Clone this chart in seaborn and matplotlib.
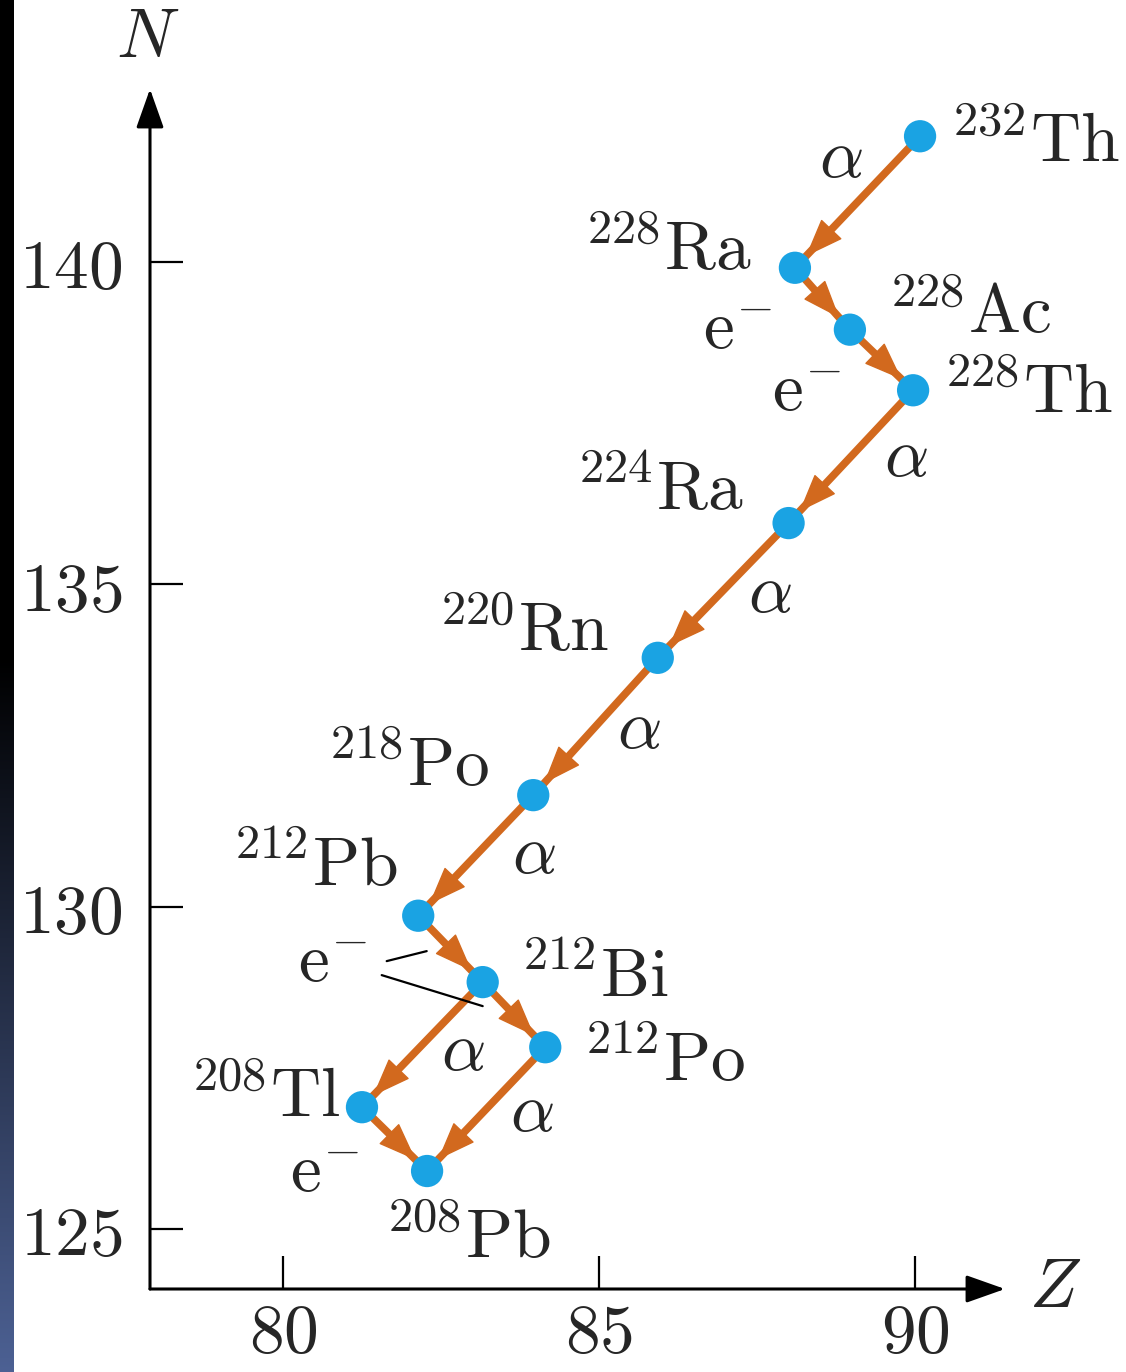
import matplotlib
matplotlib.use("Agg")
import matplotlib.pyplot as plt
import numpy as np
import pandas as pd
import seaborn as sns

# nuclides of the thorium series (Z, N)
mass = ["232", "228", "228", "228", "224", "220", "218", "212", "212", "212", "208", "208"]
element = ["Th", "Ra", "Ac", "Th", "Ra", "Rn", "Po", "Pb", "Bi", "Po", "Tl", "Pb"]
z_vals = [90.08, 88.1, 88.97, 89.97, 88.0, 85.93, 83.96, 82.14, 83.16, 84.15, 81.25, 82.28]
n_vals = [141.95, 139.91, 138.95, 138.01, 135.95, 133.86, 131.73, 129.86, 128.83, 127.82, 126.89, 125.9]

# decays: index of parent, index of daughter, decay type
decay_from = [0, 1, 2, 3, 4, 5, 6, 7, 8, 8, 9, 10]
decay_to = [1, 2, 3, 4, 5, 6, 7, 8, 10, 9, 11, 11]
decay_kind = ["a", "e", "e", "a", "a", "a", "a", "e", "a", "", "a", "e"]

z_ticks = [80, 85, 90]
n_ticks = [125, 130, 135, 140]

df = pd.DataFrame({"Z": z_vals, "N": n_vals, "A": mass, "el": element})

ORANGE = "#D2691E"
BLUE = "#1AA3E3"
FS = 50

sns.set_style("white")
plt.rcParams["mathtext.fontset"] = "cm"
plt.rcParams["font.family"] = ["DejaVu Serif"]

fig = plt.figure(figsize=(11.26, 13.72), dpi=100)
ax = fig.add_axes([150 / 1126, 1 - 1289 / 1372, 855 / 1126, 1200 / 1372])
ax.set_xlim(77.896, 91.424)
ax.set_ylim(124.07, 142.683)
for s in ax.spines.values():
    s.set_visible(False)

# axis arrows
arrow_ax = "-|>,head_length=2.4,head_width=0.85"
ax.annotate("", xy=(0, 1), xytext=(0, 0), xycoords="axes fraction",
            arrowprops=dict(arrowstyle=arrow_ax, lw=2.2, color="black", shrinkA=0, shrinkB=0))
ax.annotate("", xy=(1, 0), xytext=(0, 0), xycoords="axes fraction",
            arrowprops=dict(arrowstyle=arrow_ax, lw=2.2, color="black", shrinkA=0, shrinkB=0))
fig.text(148 / 1126, 1 - 38 / 1372, "$N$", fontsize=FS, ha="center", va="center")
fig.text(1055 / 1126, 1 - 1288 / 1372, "$Z$", fontsize=FS, ha="center", va="center")

ax.set_xticks(z_ticks, labels=[f"${t}$" for t in z_ticks])
ax.set_yticks(n_ticks, labels=[f"${t}$" for t in n_ticks])
ax.tick_params(axis="both", direction="in", length=24, width=1.6, labelsize=FS,
               color="black", bottom=True, left=True, top=False, right=False)
ax.tick_params(axis="x", pad=8)
ax.tick_params(axis="y", pad=20)
ax.set_xlabel("")
ax.set_ylabel("")

# decay arrows
for i, j in zip(decay_from, decay_to):
    ax.plot([z_vals[i], z_vals[j]], [n_vals[i], n_vals[j]], color=ORANGE, lw=5.5,
            solid_capstyle="butt", zorder=2)
    ax.annotate("", xy=(z_vals[j], n_vals[j]), xytext=(z_vals[i], n_vals[i]),
                arrowprops=dict(arrowstyle="-|>,head_length=2.5,head_width=0.95", lw=1,
                                color=ORANGE, shrinkA=0, shrinkB=11.5), zorder=3)

sns.scatterplot(data=df, x="Z", y="N", s=540, color=BLUE, edgecolor="none", zorder=5, ax=ax)
ax.set_xlabel("")
ax.set_ylabel("")

# nuclide labels: pixel offsets from the dot (x, y up), alignment
lab_off = [(30, -26), (-43, -2), (38, -3), (30, -23), (-45, 13), (-49, 7),
           (-44, 9), (-20, 30), (37, -15), (38, -33), (-22, -10), (41, -87)]
lab_ha = ["left", "right", "left", "left", "right", "right",
          "right", "right", "left", "left", "right", "center"]
for k in range(len(mass)):
    ax.annotate(rf"$^{{{mass[k]}}}\mathrm{{{element[k]}}}$", xy=(z_vals[k], n_vals[k]),
                xytext=lab_off[k], textcoords="offset pixels", fontsize=FS,
                ha=lab_ha[k], va="baseline", zorder=6)

# decay labels: pixel offsets from transition midpoint
dec_off = [(-17, 44), (-85, -31), (-75, -32), (55, 0), (47, -2), (43, -2),
           (58, 2), (-118, -14), (41, -6), None, (46, -3), (-70, -34)]
for (i, j), kind, off in zip(zip(decay_from, decay_to), decay_kind, dec_off):
    if off is None:
        continue
    txt = r"$\alpha$" if kind == "a" else r"$\mathrm{e}^{-}$"
    mid = ((z_vals[i] + z_vals[j]) / 2, (n_vals[i] + n_vals[j]) / 2)
    ax.annotate(txt, xy=mid, xytext=off, textcoords="offset pixels", fontsize=FS,
                ha="center", va="center", zorder=6)


def px(k, dx, dy):
    p = ax.transData.transform((z_vals[k], n_vals[k]))
    return ax.transData.inverted().transform((p[0] + dx, p[1] + dy))


# pointer lines from the e- label near 212Bi
for (a, b) in [((-96, 21), (-56, 31)), ((-101, 7), (0, -24))]:
    p0 = px(8, *a)
    p1 = px(8, *b)
    ax.plot([p0[0], p1[0]], [p0[1], p1[1]], color="black", lw=1.6, zorder=4)

# dark strip on the left edge
strip = fig.add_axes([0, 0, 14 / 1126, 1])
t = np.clip((np.linspace(0, 1, 1372) - 0.48) / 0.52, 0, 1)
bottom_col = np.array([0.30, 0.38, 0.58])
grad = t[:, None, None] * bottom_col[None, None, :]
strip.imshow(grad, aspect="auto", extent=[0, 1, 0, 1])
strip.set_axis_off()

fig.savefig("out.png", dpi=100)
